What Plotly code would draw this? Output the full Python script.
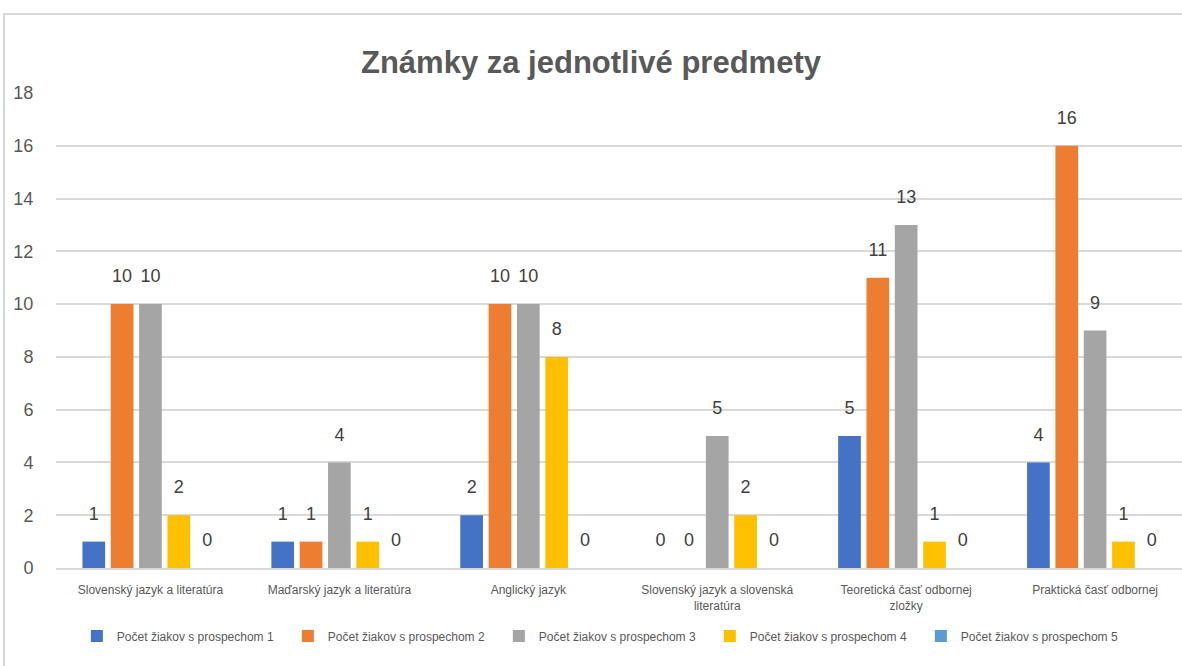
import plotly.graph_objects as go

categories = [
    "Slovenský jazyk a literatúra",
    "Maďarský jazyk a literatúra",
    "Anglický jazyk",
    "Slovenský jazyk a slovenská<br>literatúra",
    "Teoretická časť odbornej<br>zložky",
    "Praktická časť odbornej",
]
series_names = [
    "Počet žiakov s prospechom 1",
    "Počet žiakov s prospechom 2",
    "Počet žiakov s prospechom 3",
    "Počet žiakov s prospechom 4",
    "Počet žiakov s prospechom 5",
]
s1 = [1, 1, 2, 0, 5, 4]
s2 = [10, 1, 10, 0, 11, 16]
s3 = [10, 4, 10, 5, 13, 9]
s4 = [2, 1, 8, 2, 1, 1]
s5 = [0, 0, 0, 0, 0, 0]
series_values = [s1, s2, s3, s4, s5]
colors = ["#4472C4", "#ED7D31", "#A5A5A5", "#FFC000", "#5B9BD5"]
y_ticks = [0, 2, 4, 6, 8, 10, 12, 14, 16, 18]

FONT = "Liberation Sans"
GRAY = "#595959"

fig = go.Figure()
for name, vals, col in zip(series_names, series_values, colors):
    fig.add_trace(go.Bar(
        x=categories, y=vals, name=name,
        marker=dict(color=col, line=dict(width=0)),
        hoverinfo="skip",
    ))
# data labels, placed above the bars via grouped scatter points (invisible markers)
for name, vals in zip(series_names, series_values):
    fig.add_trace(go.Scatter(
        x=categories, y=vals, mode="markers+text", showlegend=False,
        marker=dict(size=26, opacity=0),
        text=[str(v) for v in vals], textposition="top center",
        textfont=dict(family=FONT, size=18, color="#404040"),
        cliponaxis=False, hoverinfo="skip",
    ))

fig.update_layout(
    width=1182, height=666,
    paper_bgcolor="white", plot_bgcolor="white",
    margin=dict(l=56, r=0, t=93, b=98),
    barmode="group", bargap=0.25, bargroupgap=0.2,
    scattermode="group", scattergap=0.25,
    title=dict(text="<b>Známky za jednotlivé predmety</b>",
               x=0.5, xanchor="center", y=1 - 62 / 666, yanchor="middle",
               font=dict(family=FONT, size=31, color=GRAY)),
    font=dict(family=FONT, color=GRAY),
    legend=dict(orientation="h", x=0.487, xanchor="center", y=-0.143, yanchor="middle",
                font=dict(family=FONT, size=12, color=GRAY),
                entrywidth=166, itemwidth=30, traceorder="normal"),
    showlegend=True,
)
fig.update_xaxes(
    range=[-0.5, 5.46], tickfont=dict(family=FONT, size=12, color=GRAY),
    showline=True, linecolor="#D9D9D9", linewidth=1.5, ticks="", showgrid=False,
    tickangle=0, automargin=False, ticklabelstandoff=10,
)
fig.update_yaxes(
    range=[0, 18], tickvals=y_ticks, ticktext=[str(t) for t in y_ticks],
    tickfont=dict(family=FONT, size=18, color=GRAY),
    showgrid=True, gridcolor="#D9D9D9", gridwidth=1.5, zeroline=False,
    showline=False, ticks="outside", ticklen=18, tickcolor="white", automargin=False,
)
fig.add_shape(type="rect", xref="paper", yref="paper",
              x0=(4 - 56) / 1126, x1=1.05, y0=-0.3, y1=(568 - 14) / 475,
              line=dict(color="#D9D9D9", width=2), fillcolor="rgba(0,0,0,0)", layer="below")

fig.write_html("out.html", config={"displayModeBar": False},
               post_script="document.body.style.margin='0px';document.body.style.overflow='hidden';")
